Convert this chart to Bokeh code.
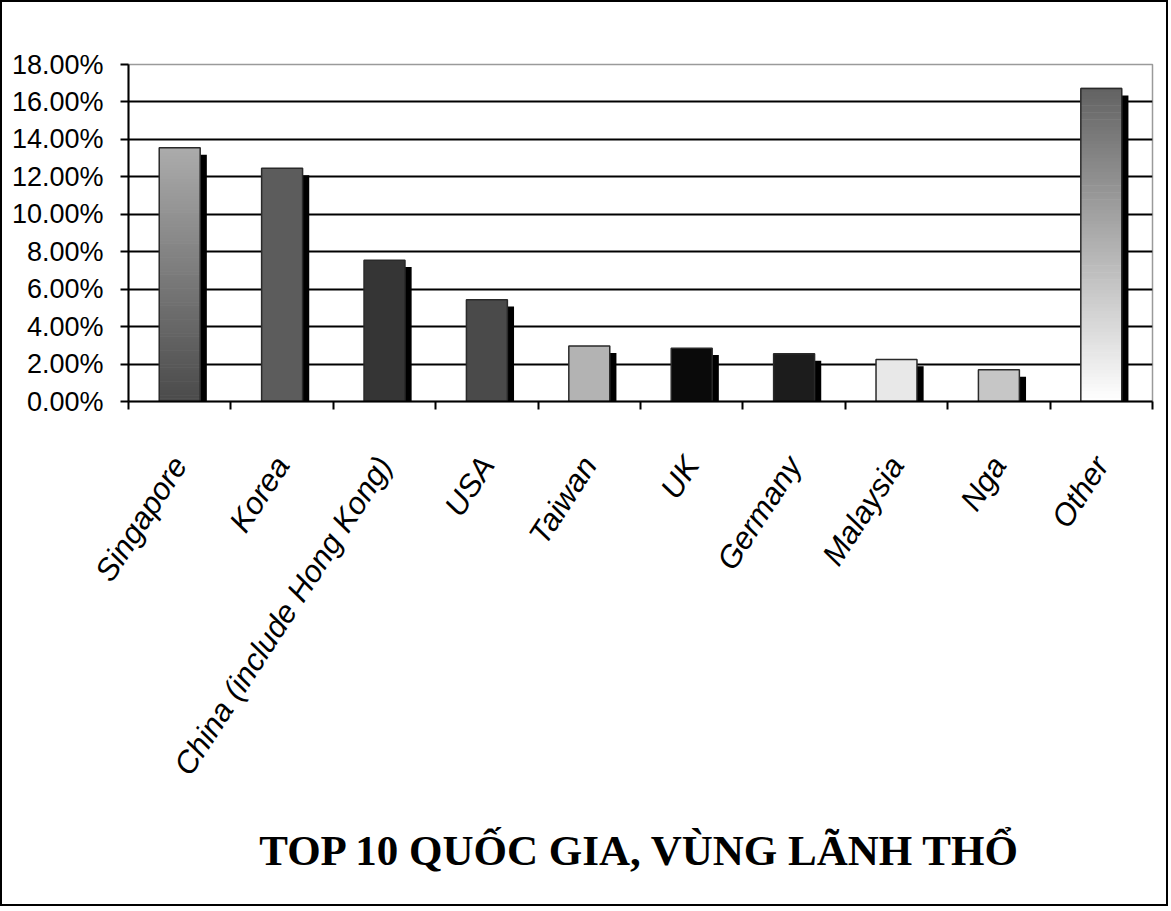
from bokeh.plotting import figure
from bokeh.layouts import column
from bokeh.models import Range1d, FixedTicker, NumeralTickFormatter, Title, ColumnDataSource
from bokeh.embed import file_html
from bokeh.resources import INLINE
import math

# ---- data ----
countries = ["Singapore", "Korea", "China (include Hong Kong)", "USA", "Taiwan",
             "UK", "Germany", "Malaysia", "Nga", "Other"]
shares_pct = [13.55, 12.46, 7.55, 5.44, 2.96, 2.85, 2.55, 2.25, 1.69, 16.72]
y_ticks_pct = [0, 2, 4, 6, 8, 10, 12, 14, 16, 18]
title_text = "TOP 10 QUỐC GIA, VÙNG LÃNH THỔ"

# ---- styles ----
bar_colors = ["#aaaaaa", "#5c5c5c", "#353535", "#4a4a4a", "#b3b3b3",
              "#0a0a0a", "#1c1c1c", "#e8e8e8", "#c6c6c6", "#ffffff"]
gradients = {0: ("#acacac", "#4a4a4a"), 9: ("#626262", "#ffffff")}
BAR_W = 0.4
SHADOW_W = 0.065
SHADOW_DROP = 0.0037

shares = [v / 100.0 for v in shares_pct]
y_ticks = [t / 100.0 for t in y_ticks_pct]
n = len(countries)
centers = [i + 0.5 for i in range(n)]

p = figure(width=1164, height=902, output_backend="svg", toolbar_location=None,
           x_range=Range1d(0, n), y_range=Range1d(0, y_ticks[-1]),
           min_border_left=126, min_border_right=14, min_border_top=62, min_border_bottom=60)
p.background_fill_color = "white"
p.border_fill_color = "white"
p.outline_line_color = "#9a9a9a"
p.outline_line_width = 1.5

# grid
p.xgrid.visible = False
p.ygrid.ticker = FixedTicker(ticks=y_ticks[1:-1])
p.ygrid.grid_line_color = "black"
p.ygrid.grid_line_width = 2

# y axis
p.yaxis.ticker = FixedTicker(ticks=y_ticks)
p.yaxis.formatter = NumeralTickFormatter(format="0.00%")
p.yaxis.major_label_text_font = "Liberation Sans"
p.yaxis.major_label_text_font_size = "27px"
p.yaxis.major_label_text_color = "black"
p.yaxis.major_tick_out = 8
p.yaxis.major_tick_in = 0
p.yaxis.minor_tick_out = 0
p.yaxis.minor_tick_in = 0
p.yaxis.major_tick_line_width = 2
p.yaxis.axis_line_width = 2
p.yaxis.axis_line_color = "black"
p.yaxis.major_label_standoff = 17

# x axis
p.xaxis.ticker = FixedTicker(ticks=centers, minor_ticks=list(range(n + 1)))
p.xaxis.major_label_overrides = {c: name for c, name in zip(centers, countries)}
p.xaxis.major_label_orientation = math.radians(57)
p.xaxis.major_label_text_font = "Liberation Sans"
p.xaxis.major_label_text_font_style = "italic"
p.xaxis.major_label_text_font_size = "31px"
p.xaxis.major_label_text_color = "black"
p.xaxis.major_tick_out = 0
p.xaxis.major_tick_in = 0
p.xaxis.minor_tick_out = 8
p.xaxis.minor_tick_in = 0
p.xaxis.minor_tick_line_width = 2
p.xaxis.minor_tick_line_color = "black"
p.xaxis.axis_line_width = 2
p.xaxis.axis_line_color = "black"
p.xaxis.major_label_standoff = 50

# shadows
sh = ColumnDataSource(dict(
    left=[c + BAR_W / 2 - 0.01 for c in centers],
    right=[c + BAR_W / 2 + SHADOW_W for c in centers],
    top=[max(v - SHADOW_DROP, 0) for v in shares],
    bottom=[0] * n))
p.quad(left="left", right="right", top="top", bottom="bottom", source=sh,
       fill_color="black", line_color=None)

# solid bars
p.vbar(x=centers, top=shares, width=BAR_W, fill_color=bar_colors, line_color=None)


def hex2rgb(h):
    return tuple(int(h[i:i + 2], 16) for i in (1, 3, 5))


# gradient bars
N = 90
for i, (ctop, cbot) in gradients.items():
    rt, rb = hex2rgb(ctop), hex2rgb(cbot)
    v = shares[i]
    L, R, B, T, C = [], [], [], [], []
    for k in range(N):
        f = (k + 0.5) / N
        col = tuple(int(round(rb[j] + (rt[j] - rb[j]) * f)) for j in range(3))
        L.append(centers[i] - BAR_W / 2)
        R.append(centers[i] + BAR_W / 2)
        B.append(v * k / N)
        T.append(v * (k + 1) / N + v * 0.002)
        C.append("#%02x%02x%02x" % col)
    p.quad(left=L, right=R, bottom=B, top=T, fill_color=C, line_color=None)

# outlines
p.vbar(x=centers, top=shares, width=BAR_W, fill_color=None, line_color="#2a2a2a", line_width=1.5)

# title below
p.add_layout(Title(text=title_text, text_font="Liberation Serif", text_font_style="bold",
                   text_font_size="43px", align="center", text_color="black",
                   standoff=62), "below")

layout = column(p, styles={"border": "2px solid black"})

open("out.html", "w").write(file_html(layout, INLINE))
